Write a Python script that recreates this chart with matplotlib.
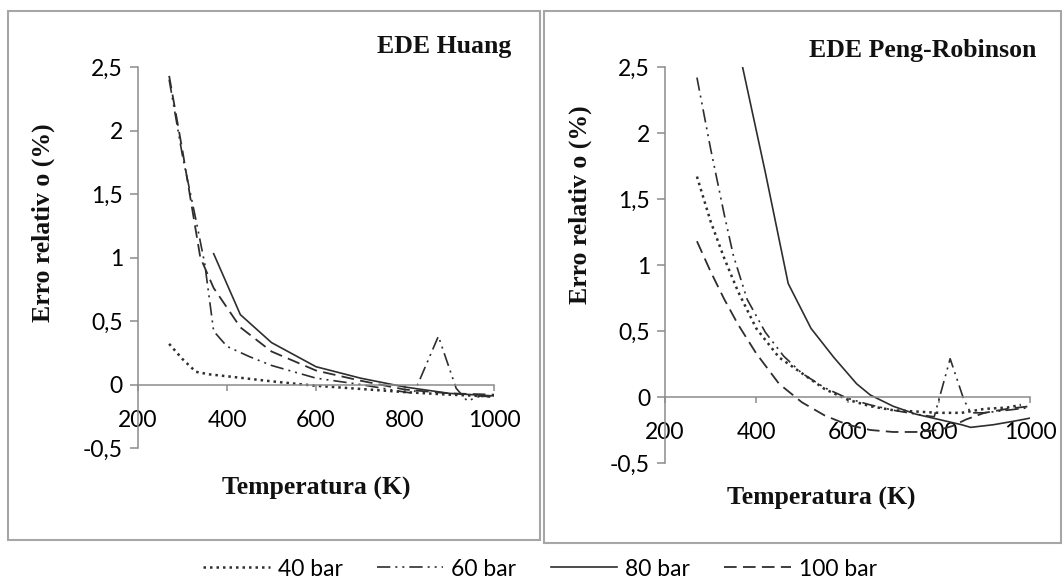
import numpy as np
import matplotlib
matplotlib.use("Agg")
import matplotlib.pyplot as plt
from matplotlib.patches import Rectangle
from matplotlib.ticker import FuncFormatter, MultipleLocator

# EDE Huang
h40_T = [270, 300, 330, 360, 400, 450, 500, 600, 700, 800, 900, 1000]
h40_v = [0.32, 0.2, 0.1, 0.08, 0.065, 0.045, 0.025, -0.01, -0.035, -0.06, -0.08, -0.095]
h60_T = [270, 300, 330, 350, 370, 400, 450, 500, 600, 700, 800, 820, 875, 915, 940, 970, 1000]
h60_v = [2.4, 1.8, 1.3, 0.95, 0.42, 0.3, 0.22, 0.15, 0.05, 0.0, -0.06, -0.07, 0.38, -0.03, -0.13, -0.09, -0.1]
h80_T = [370, 430, 500, 600, 700, 800, 900, 1000]
h80_v = [1.03, 0.55, 0.33, 0.14, 0.05, -0.02, -0.07, -0.09]
h100_T = [270, 300, 340, 370, 430, 500, 600, 700, 800, 900, 1000]
h100_v = [2.43, 1.84, 1.0, 0.76, 0.45, 0.26, 0.11, 0.03, -0.04, -0.07, -0.08]

# EDE Peng-Robinson
p40_T = [270, 300, 330, 360, 400, 450, 500, 550, 600, 650, 700, 750, 800, 850, 900, 950, 980]
p40_v = [1.67, 1.33, 1.05, 0.8, 0.52, 0.3, 0.18, 0.06, -0.02, -0.07, -0.1, -0.11, -0.12, -0.12, -0.09, -0.08, -0.06]
p60_T = [270, 300, 330, 350, 380, 420, 460, 500, 550, 600, 650, 700, 750, 790, 825, 855, 870, 900, 950, 1000]
p60_v = [2.42, 1.88, 1.38, 1.07, 0.74, 0.49, 0.31, 0.18, 0.07, -0.01, -0.06, -0.1, -0.13, -0.15, 0.29, -0.02, -0.12, -0.12, -0.1, -0.08]
p80_T = [370, 420, 470, 520, 570, 620, 650, 700, 750, 800, 850, 870, 920, 970, 1000]
p80_v = [2.5, 1.7, 0.86, 0.52, 0.3, 0.1, 0.015, -0.07, -0.13, -0.17, -0.21, -0.23, -0.21, -0.18, -0.16]
p100_T = [270, 300, 330, 360, 400, 450, 500, 550, 600, 650, 700, 750, 800, 830, 860, 900, 950, 1000]
p100_v = [1.18, 0.95, 0.74, 0.55, 0.33, 0.1, -0.04, -0.14, -0.21, -0.25, -0.265, -0.265, -0.25, -0.22, -0.17, -0.12, -0.09, -0.07]

labels = ["40 bar", "60 bar", "80 bar", "100 bar"]
xticks = [200, 400, 600, 800, 1000]

W, H = 1064, 584
serif = "Liberation Serif"
sans = "Lato"
lc = "#2e2e2e"
gray = "#8c8c8c"

styles = [
    dict(ls=(0, (1, 1.6)), lw=1.8),
    dict(ls=(0, (8, 3, 1.2, 3, 1.2, 3)), lw=1.2),
    dict(ls="-", lw=1.2),
    dict(ls=(0, (7, 3.5)), lw=1.3),
]


def fx(px):
    return px / W


def fy(py):
    return 1 - py / H


fig = plt.figure(figsize=(W / 100, H / 100), dpi=100)

fig.patches.append(Rectangle((fx(8), fy(540)), (540 - 8) / W, (540 - 11) / H,
                             transform=fig.transFigure, fill=False, ec="#a6a6a6", lw=1.5))
fig.patches.append(Rectangle((fx(544), fy(543)), (1061 - 544) / W, (543 - 11) / H,
                             transform=fig.transFigure, fill=False, ec="#a6a6a6", lw=1.5))

ax1 = fig.add_axes([fx(138), fy(448), 356 / W, (448 - 67) / H])
ax2 = fig.add_axes([fx(665), fy(463), 365 / W, (463 - 67) / H])

comma = FuncFormatter(lambda v, p: f"{v:g}".replace(".", ","))

for ax, data in [(ax1, [(h40_T, h40_v), (h60_T, h60_v), (h80_T, h80_v), (h100_T, h100_v)]),
                 (ax2, [(p40_T, p40_v), (p60_T, p60_v), (p80_T, p80_v), (p100_T, p100_v)])]:
    for (T, v), st, lab in zip(data, styles, labels):
        ax.plot(T, v, color=lc, label=lab, **st)
    ax.set_xlim(200, 1000)
    ax.set_ylim(-0.5, 2.5)
    ax.set_xticks(xticks)
    ax.yaxis.set_major_locator(MultipleLocator(0.5))
    ax.yaxis.set_major_formatter(comma)
    ax.spines["top"].set_visible(False)
    ax.spines["right"].set_visible(False)
    ax.spines["bottom"].set_position(("data", 0))
    for s in ["left", "bottom"]:
        ax.spines[s].set_color(gray)
        ax.spines[s].set_linewidth(1.1)
    ax.tick_params(axis="y", direction="out", length=5.8, width=1.1, color=gray, pad=5,
                   labelsize=16.5)
    ax.tick_params(axis="x", direction="out", length=4.3, width=1.1, color=gray, pad=14,
                   labelsize=16.5)
    for t in ax.get_xticklabels() + ax.get_yticklabels():
        t.set_fontfamily(sans)
    ax.patch.set_alpha(0)

tfont = dict(family=serif, weight="bold", size=18.5, color="#111111")
fig.text(fx(511), fy(47), "EDE Huang", ha="right", va="center", **tfont)
fig.text(fx(1036), fy(50), "EDE Peng-Robinson", ha="right", va="center", **tfont)
fig.text(fx(316), fy(488), "Temperatura (K)", ha="center", va="center", **tfont)
fig.text(fx(821), fy(498), "Temperatura (K)", ha="center", va="center", **tfont)
fig.text(fx(43), fy(223), "Erro relativ o (%)", ha="center", va="center", rotation=90, **tfont)
fig.text(fx(580), fy(205), "Erro relativ o (%)", ha="center", va="center", rotation=90, **tfont)

handles, labs = ax1.get_legend_handles_labels()
fig.legend(handles, labs, loc="center", bbox_to_anchor=(fx(540), fy(569)), ncol=4,
           frameon=False, prop=dict(family=sans, size=16.5), handlelength=2.9,
           handletextpad=0.35, columnspacing=1.5, borderpad=0)

fig.savefig("out.png", dpi=100)
